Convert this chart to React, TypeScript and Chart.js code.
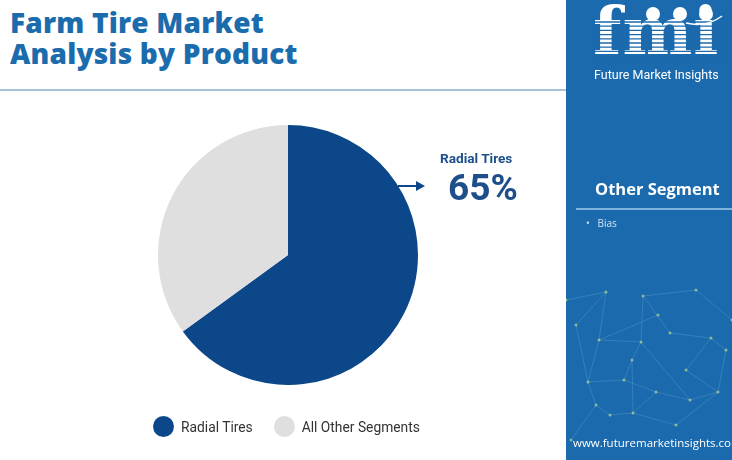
import React, { useEffect, useRef } from "react";
import { Chart, registerables } from "chart.js";

Chart.register(...registerables);

const categories = ["Radial Tires", "All Other Segments"];
const shares = [65, 35];
const sliceColors = ["#0c4889", "#dfdfdf"];
const otherSegments = ["Bias"];
const highlightLabel = "Radial Tires";
const highlightValue = "65%";

const netPoints: [number, number][] = [
  [40, 12], [77, 16], [92, 35], [10, 45], [33, 60], [75, 62], [104, 53], [145, 58],
  [66, 80], [58, 100], [22, 102], [90, 112], [124, 120], [30, 125], [44, 135], [67, 133],
  [152, 112], [160, 70], [120, 90], [110, 145], [0, 20], [130, 10], [166, 40], [5, 160],
];
const netLinks: [number, number][] = [
  [0, 4], [0, 3], [1, 6], [1, 5], [4, 5], [5, 8], [5, 12], [6, 7], [7, 17], [8, 9], [9, 10],
  [9, 11], [11, 12], [10, 13], [13, 14], [14, 15], [15, 11], [12, 16], [16, 17], [4, 10], [8, 15],
  [18, 7], [18, 16], [15, 19], [19, 16], [3, 10], [2, 4], [20, 0], [1, 21], [21, 22], [13, 23],
];

export default function App() {
  const ref = useRef<HTMLCanvasElement | null>(null);
  useEffect(() => {
    if (!ref.current) return;
    const chart = new Chart(ref.current, {
      type: "pie",
      data: {
        labels: categories,
        datasets: [
          {
            data: shares,
            backgroundColor: sliceColors,
            borderWidth: 0,
          },
        ],
      },
      options: {
        animation: false,
        responsive: false,
        maintainAspectRatio: false,
        layout: { padding: 0 },
        plugins: { legend: { display: false }, tooltip: { enabled: false } },
      },
    });
    return () => chart.destroy();
  }, []);

  return (
    <div
      style={{
        position: "fixed",
        left: 0,
        top: 0,
        width: 732,
        height: 460,
        background: "#ffffff",
        overflow: "hidden",
        fontFamily: "'Open Sans', sans-serif",
      }}
    >
      <div
        style={{
          position: "absolute",
          left: 10,
          top: 7,
          fontSize: 28,
          lineHeight: "31px",
          fontWeight: 800,
          color: "#1b6cad",
          letterSpacing: 0.2,
          fontFamily: "'Open Sans', sans-serif",
        }}
      >
        Farm Tire Market
        <br />
        Analysis by Product
      </div>
      <div style={{ position: "absolute", left: 0, top: 89, width: 566, height: 2, background: "#a9c3d6" }} />

      <canvas ref={ref} width={260} height={260} style={{ position: "absolute", left: 158, top: 125, width: 260, height: 260 }} />

      <svg style={{ position: "absolute", left: 0, top: 0 }} width={566} height={460}>
        <line x1={398} y1={186} x2={418} y2={186} stroke="#0c4889" strokeWidth={2} />
        <polygon points="425,186 416,181 416,191" fill="#0c4889" />
      </svg>
      <div
        style={{
          position: "absolute",
          left: 440,
          top: 150,
          fontSize: 13.6,
          fontWeight: 700,
          color: "#1e4f8a",
          fontFamily: "Roboto, sans-serif",
        }}
      >
        {highlightLabel}
      </div>
      <div
        style={{
          position: "absolute",
          left: 448,
          top: 166,
          fontSize: 37,
          fontWeight: 700,
          color: "#1e4f8a",
          fontFamily: "Roboto, sans-serif",
        }}
      >
        {highlightValue}
      </div>

      <div style={{ position: "absolute", left: 153, top: 416, display: "flex", alignItems: "center", fontFamily: "Roboto, sans-serif", fontSize: 13.8, color: "#333" }}>
        {categories.map((c, i) => (
          <div key={c} style={{ display: "flex", alignItems: "center", marginRight: 21 }}>
            <div style={{ width: 21, height: 21, borderRadius: "50%", background: sliceColors[i], marginRight: 7 }} />
            <span>{c}</span>
          </div>
        ))}
      </div>

      <div style={{ position: "absolute", left: 566, top: 0, width: 166, height: 460, background: "#1a6aad" }}>
        <svg style={{ position: "absolute", left: 0, top: 280 }} width={166} height={180}>
          {netLinks.map(([a, b], i) => (
            <line key={i} x1={netPoints[a][0]} y1={netPoints[a][1]} x2={netPoints[b][0]} y2={netPoints[b][1]} stroke="#6fb0d8" strokeOpacity={0.45} strokeWidth={0.7} />
          ))}
          {netPoints.map((p, i) => (
            <circle key={i} cx={p[0]} cy={p[1]} r={1.5} fill="#b9d98a" fillOpacity={0.7} />
          ))}
        </svg>
        <div
          style={{
            position: "absolute",
            left: 27,
            top: -8,
            fontSize: 66,
            fontWeight: 700,
            color: "#ffffff",
            fontFamily: "'DejaVu Serif', serif",
            letterSpacing: 1,
          }}
        >
          fmi
        </div>
        <svg style={{ position: "absolute", left: 0, top: 0 }} width={166} height={70}>
          {[0, 1, 2, 3, 4, 5, 6, 7, 8, 9].map((i) => (
            <line key={i} x1={25} y1={22 + i * 4.2} x2={160} y2={22 + i * 4.2} stroke="#1a6aad" strokeWidth={1.3} />
          ))}
          <circle cx={87} cy={14} r={7} fill="#fff" />
          <circle cx={114} cy={14} r={7} fill="#fff" />
          <circle cx={140} cy={14} r={7} fill="#fff" />
          <path d="M120 23 Q140 28 156 16" stroke="#fff" strokeWidth={1.5} fill="none" />
        </svg>
        <div style={{ position: "absolute", left: 28, top: 67, fontSize: 12.5, color: "#fff", fontFamily: "Roboto, sans-serif" }}>
          Future Market Insights
        </div>
        <div
          style={{
            position: "absolute",
            left: 29,
            top: 177,
            whiteSpace: "nowrap",
            fontSize: 16.5,
            fontWeight: 700,
            color: "#fff",
            fontFamily: "'Open Sans', sans-serif",
          }}
        >
          Other Segment
        </div>
        <div style={{ position: "absolute", left: 10, top: 208, width: 156, height: 2, background: "#7fb2dc" }} />
        {otherSegments.map((s, i) => (
          <div key={s} style={{ position: "absolute", left: 20, top: 216 + i * 16, fontSize: 10, color: "#cfe2f3", fontFamily: "'Open Sans', sans-serif" }}>
            •&nbsp;&nbsp;&nbsp;{s}
          </div>
        ))}
        <div style={{ position: "absolute", left: 7, top: 435, fontSize: 11.5, color: "#fff", whiteSpace: "nowrap", fontFamily: "'Open Sans', sans-serif" }}>
          www.futuremarketinsights.com
        </div>
      </div>
    </div>
  );
}
